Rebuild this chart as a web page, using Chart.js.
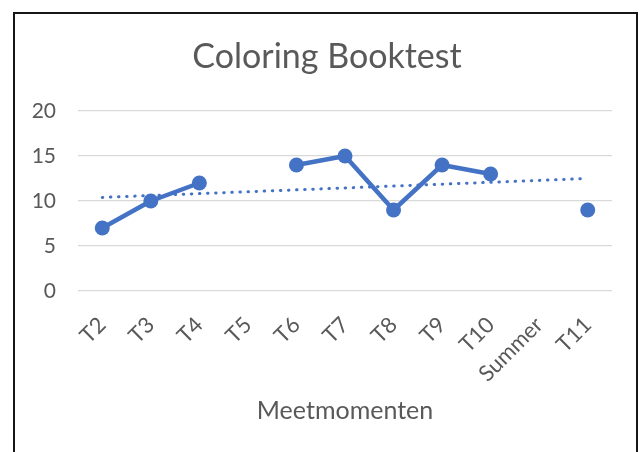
<!DOCTYPE html>
<html>
<head>
<meta charset="utf-8">
<script src="https://cdn.jsdelivr.net/npm/chart.js@4/dist/chart.umd.min.js"></script>
<style>
  html, body { margin: 0; padding: 0; background: #fff; }
  #wrap { position: relative; width: 642px; height: 452px; overflow: hidden; }
  #frame {
    position: absolute; left: 13px; top: 12px; width: 625px; height: 460px;
    box-sizing: border-box; border: 2px solid #161616; border-bottom: none;
    pointer-events: none;
  }
</style>
</head>
<body>
<div id="wrap">
  <canvas id="c" width="642" height="452"></canvas>
  <div id="frame"></div>
</div>
<script>
// Measurement moments and test scores (gaps where no test was taken)
const categories = ['T2', 'T3', 'T4', 'T5', 'T6', 'T7', 'T8', 'T9', 'T10', 'Summer', 'T11'];
const scores = [7, 10, 12, null, 14, 15, 9, 14, 13, null, 9];
// Linear trend line, start and end values
const trend = [10.4, null, null, null, null, null, null, null, null, null, 12.5];
const yTicks = [0, 5, 10, 15, 20];
const chartTitle = 'Coloring Booktest';

const BLUE = '#4472C4';
const TEXT = '#595959';
const FONT = 'Lato, "Open Sans", sans-serif';

// Chart title, centred on the whole frame rather than the plot area
const frameTitle = {
  id: 'frameTitle',
  afterDraw(chart) {
    const ctx = chart.ctx;
    ctx.save();
    ctx.fillStyle = TEXT;
    ctx.font = '34px ' + FONT;
    ctx.textAlign = 'center';
    ctx.textBaseline = 'middle';
    ctx.fillText(chartTitle, 327, 57);
    ctx.restore();
  }
};

new Chart(document.getElementById('c'), {
  type: 'line',
  data: {
    labels: categories,
    datasets: [
      {
        label: 'Trend',
        data: trend,
        order: 0,
        spanGaps: true,
        borderColor: BLUE,
        borderWidth: 3,
        borderDash: [0.5, 7.6],
        borderCapStyle: 'round',
        pointRadius: 0,
        fill: false
      },
      {
        label: chartTitle,
        data: scores,
        order: 1,
        spanGaps: false,
        borderColor: BLUE,
        backgroundColor: BLUE,
        borderWidth: 4.5,
        borderJoinStyle: 'round',
        borderCapStyle: 'round',
        pointRadius: 7.5,
        pointBackgroundColor: BLUE,
        pointBorderWidth: 0,
        tension: 0,
        fill: false
      }
    ]
  },
  plugins: [frameTitle],
  options: {
    responsive: false,
    animation: false,
    layout: { padding: { left: 20, right: 30, top: 111, bottom: 0 } },
    plugins: {
      legend: { display: false },
      tooltip: { enabled: false },
      title: { display: false }
    },
    scales: {
      y: {
        min: 0,
        max: 20,
        afterBuildTicks: (s) => { s.ticks = yTicks.map(v => ({ value: v })); },
        afterFit: (s) => { s.width = 58; },
        border: { display: false },
        grid: { color: '#d9d9d9', lineWidth: 1.3, drawTicks: false },
        ticks: { color: TEXT, font: { family: FONT, size: 21 }, padding: 22 }
      },
      x: {
        offset: true,
        afterFit: (s) => { s.height = 161; },
        border: { display: false },
        grid: { display: false },
        ticks: {
          color: TEXT,
          font: { family: FONT, size: 22 },
          minRotation: 45,
          maxRotation: 45,
          autoSkip: false,
          padding: 13
        },
        title: {
          display: true,
          text: 'Meetmomenten',
          color: TEXT,
          font: { family: FONT, size: 25 },
          padding: { top: 4, bottom: 26 }
        }
      }
    }
  }
});
</script>
</body>
</html>
